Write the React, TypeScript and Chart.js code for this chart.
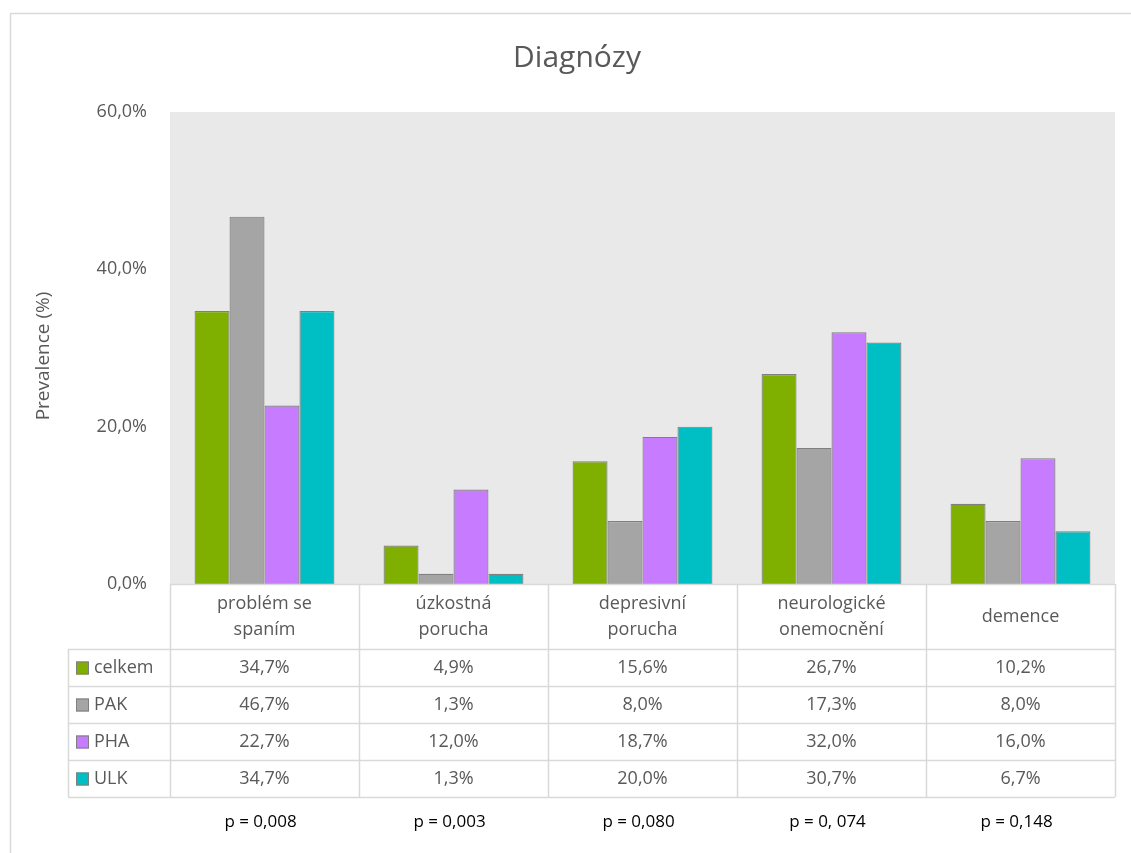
import React, { useEffect, useRef } from "react";
import { Chart, registerables } from "chart.js";

Chart.register(...registerables);

const categories: string[][] = [
  ["problém se", "spaním"],
  ["úzkostná", "porucha"],
  ["depresivní", "porucha"],
  ["neurologické", "onemocnění"],
  ["demence"],
];
const seriesNames = ["celkem", "PAK", "PHA", "ULK"];
const seriesColors = ["#7FB000", "#A5A5A5", "#C77CFF", "#00BFC4"];
const celkem = [34.7, 4.9, 15.6, 26.7, 10.2];
const pak = [46.7, 1.3, 8.0, 17.3, 8.0];
const pha = [22.7, 12.0, 18.7, 32.0, 16.0];
const ulk = [34.7, 1.3, 20.0, 30.7, 6.7];
const pValues = ["p = 0,008", "p = 0,003", "p = 0,080", "p = 0, 074", "p = 0,148"];
const yTicks = [0, 20, 40, 60];
const title = "Diagnózy";
const yTitle = "Prevalence (%)";

const FONT = "'Open Sans', Lato, sans-serif";
const TEXT = "#595959";
const LINE = "#D9D9D9";

const fmt = (v: number) => v.toFixed(1).replace(".", ",") + "%";

export default function App() {
  const ref = useRef<HTMLCanvasElement | null>(null);
  useEffect(() => {
    const canvas = ref.current;
    if (!canvas) return;
    const series = [celkem, pak, pha, ulk];

    const tablePlugin = {
      id: "tablePlugin",
      beforeDraw(chart: any) {
        const { ctx, chartArea } = chart;
        ctx.save();
        ctx.fillStyle = "#FFFFFF";
        ctx.fillRect(0, 0, chart.width, chart.height);
        ctx.strokeStyle = LINE;
        ctx.lineWidth = 1.5;
        ctx.strokeRect(10.5, 13.5, chart.width + 20, chart.height + 20);
        ctx.fillStyle = "#E9E9E9";
        ctx.fillRect(chartArea.left, chartArea.top, chartArea.right - chartArea.left, chartArea.bottom - chartArea.top);
        ctx.restore();
      },
      afterDraw(chart: any) {
        const { ctx, chartArea } = chart;
        const x = chart.scales.x;
        const n = categories.length;
        const half = (x.getPixelForValue(1) - x.getPixelForValue(0)) / 2;
        const bounds: number[] = [];
        for (let i = 0; i < n; i++) bounds.push(x.getPixelForValue(i) - half);
        bounds.push(x.getPixelForValue(n - 1) + half);
        const top = chartArea.bottom;
        const headerBottom = top + 65;
        const rowH = 37;
        const tableBottom = headerBottom + rowH * series.length;
        const legendLeft = 68;
        ctx.save();
        ctx.strokeStyle = LINE;
        ctx.lineWidth = 1.5;
        ctx.beginPath();
        bounds.forEach((b) => {
          ctx.moveTo(Math.round(b) + 0.5, top);
          ctx.lineTo(Math.round(b) + 0.5, tableBottom);
        });
        ctx.moveTo(legendLeft + 0.5, headerBottom);
        ctx.lineTo(legendLeft + 0.5, tableBottom);
        ctx.moveTo(bounds[0], top + 0.5);
        ctx.lineTo(bounds[n], top + 0.5);
        for (let r = 0; r <= series.length; r++) {
          const yy = Math.round(headerBottom + r * rowH) + 0.5;
          ctx.moveTo(legendLeft, yy);
          ctx.lineTo(bounds[n], yy);
        }
        ctx.stroke();

        ctx.fillStyle = TEXT;
        ctx.textAlign = "center";
        ctx.textBaseline = "middle";
        ctx.font = `18px ${FONT}`;
        const headerMid = (top + headerBottom) / 2;
        categories.forEach((lines, i) => {
          const cx = x.getPixelForValue(i);
          const lh = 26;
          lines.forEach((ln, k) => {
            ctx.fillText(ln, cx, headerMid + (k - (lines.length - 1) / 2) * lh);
          });
        });
        series.forEach((vals, r) => {
          const cy = headerBottom + r * rowH + rowH / 2;
          ctx.textAlign = "center";
          ctx.fillStyle = TEXT;
          vals.forEach((v, i) => {
            ctx.fillText(fmt(v), x.getPixelForValue(i), cy);
          });
          ctx.fillStyle = seriesColors[r];
          ctx.fillRect(76, cy - 6, 13, 13);
          ctx.strokeStyle = "#7F7F7F";
          ctx.lineWidth = 1;
          ctx.strokeRect(76.5, cy - 5.5, 12, 12);
          ctx.fillStyle = TEXT;
          ctx.textAlign = "left";
          ctx.fillText(seriesNames[r], 94, cy);
        });
        ctx.fillStyle = "#000000";
        ctx.textAlign = "center";
        ctx.font = `17px ${FONT}`;
        pValues.forEach((p, i) => {
          ctx.fillText(p, x.getPixelForValue(i) - 4, tableBottom + 25);
        });
        ctx.fillStyle = TEXT;
        ctx.font = `30px ${FONT}`;
        ctx.fillText(title, 577, 58);
        ctx.save();
        ctx.translate(44, 356);
        ctx.rotate(-Math.PI / 2);
        ctx.font = `19px ${FONT}`;
        ctx.fillText(yTitle, 0, 0);
        ctx.restore();
        ctx.restore();
      },
    };

    const chart = new Chart(canvas, {
      type: "bar",
      data: {
        labels: categories.map((c) => c.join(" ")),
        datasets: series.map((vals, i) => ({
          label: seriesNames[i],
          data: vals,
          backgroundColor: seriesColors[i],
          borderColor: "#7F7F7F",
          borderWidth: 1.2,
          categoryPercentage: 0.74,
          barPercentage: 1,
        })),
      },
      options: {
        responsive: false,
        animation: false,
        layout: { padding: { top: 112, right: 16, bottom: 269, left: 0 } },
        plugins: { legend: { display: false }, title: { display: false }, tooltip: { enabled: false } },
        scales: {
          x: { display: false },
          y: {
            min: 0,
            max: 60,
            afterBuildTicks: (scale: any) => {
              scale.ticks = yTicks.map((v) => ({ value: v }));
            },
            afterFit: (scale: any) => {
              scale.width = 170;
            },
            grid: { display: false, drawTicks: false },
            border: { display: false },
            ticks: {
              padding: 23,
              color: TEXT,
              font: { family: FONT, size: 18 },
              callback: (v: any) => fmt(Number(v)),
            },
          },
        },
      },
      plugins: [tablePlugin],
    });
    return () => chart.destroy();
  }, []);

  return (
    <div style={{ position: "fixed", left: 0, top: 0, width: 1131, height: 853, background: "#fff" }}>
      <canvas ref={ref} width={1131} height={853} style={{ width: 1131, height: 853 }} />
    </div>
  );
}
